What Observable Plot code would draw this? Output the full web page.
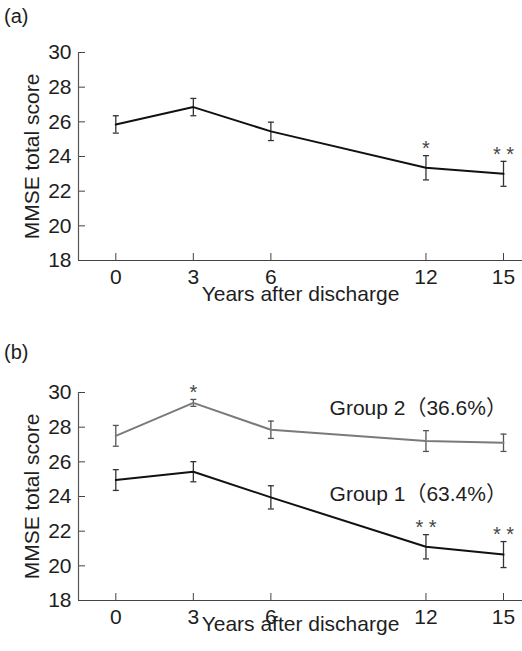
<!DOCTYPE html>
<html><head><meta charset="utf-8">
<script src="https://cdn.jsdelivr.net/npm/d3@7"></script>
<script src="https://cdn.jsdelivr.net/npm/@observablehq/plot@0.6"></script>
<style>
body{margin:0;background:#fff;}
#wrap{position:relative;width:522px;height:651px;font-family:"Liberation Sans",Arial,"Noto Sans CJK JP",sans-serif;color:#1e1e1e;}
#wrap svg{display:block;}
.tag{position:absolute;font-size:20px;line-height:20px;}
</style></head><body>
<div id="wrap">
<div id="a"></div><div id="b"></div>
<div class="tag" style="left:4px;top:6px">(a)</div>
<div class="tag" style="left:4px;top:342px">(b)</div>
</div>
<script>
// ---- data ----
const years = [0, 3, 6, 12, 15];
const totalMean = [25.85, 26.85, 25.45, 23.35, 23.0];
const totalErr = [0.5, 0.5, 0.53, 0.7, 0.72];
const totalSig = ["", "", "", "*", "* *"];
const group1Mean = [24.95, 25.43, 23.95, 21.1, 20.65];
const group1Err = [0.6, 0.58, 0.67, 0.7, 0.75];
const group1Sig = ["", "", "", "* *", "* *"];
const group2Mean = [27.5, 29.4, 27.85, 27.2, 27.1];
const group2Err = [0.6, 0.2, 0.5, 0.6, 0.5];
const group2Sig = ["", "*", "", "", ""];
const groupNames = ["Group 1（63.4%）", "Group 2（36.6%）"];
const xTicks = [0, 3, 6, 12, 15];
const yTicks = [18, 20, 22, 24, 26, 28, 30];
const xLabel = "Years after discharge";
const yLabel = "MMSE total score";

// ---- layout ----
const FONT = '"Liberation Sans", Arial, "Noto Sans CJK JP", sans-serif';
const FS = 21;
const xDomain = [-1.443, 15.735];
const yDomain = [18, 30];
const capSymbol = {draw(ctx) { ctx.moveTo(-3, 0); ctx.lineTo(3, 0); }};

function series(mean, err, sig, lineColor, barColor) {
  const rows = years.map((x, i) => ({x, y: mean[i], lo: mean[i] - err[i], hi: mean[i] + err[i], sig: sig[i]}));
  return [
    Plot.ruleX(rows, {x: "x", y1: "lo", y2: "hi", stroke: barColor, strokeWidth: 1.3}),
    Plot.dot(rows, {x: "x", y: "lo", symbol: capSymbol, stroke: barColor, strokeWidth: 1.3, fill: "none"}),
    Plot.dot(rows, {x: "x", y: "hi", symbol: capSymbol, stroke: barColor, strokeWidth: 1.3, fill: "none"}),
    Plot.line(rows, {x: "x", y: "y", stroke: lineColor, strokeWidth: 2}),
    Plot.text(rows.filter(d => d.sig), {x: "x", y: "hi", text: "sig", dy: -7, fill: "#444", fontSize: 20})
  ];
}

function panel(marks, height, marginBottom, xLabelDy) {
  return Plot.plot({
    width: 522, height, marginTop: 52, marginLeft: 78, marginRight: 0, marginBottom,
    style: {fontSize: FS + "px", fontFamily: FONT, color: "#1e1e1e", background: "white", overflow: "visible"},
    x: {domain: xDomain},
    y: {domain: yDomain},
    marks: [
      Plot.axisX({ticks: xTicks, tickSize: -7, tickPadding: 16, label: null, stroke: "#444", fontSize: FS}),
      Plot.axisY({ticks: yTicks, tickSize: -7, tickPadding: 14, label: null, stroke: "#444", fontSize: FS}),
      Plot.ruleY([yDomain[0]], {stroke: "#444", strokeWidth: 1.2}),
      Plot.ruleX([xDomain[0]], {stroke: "#555", strokeWidth: 1.2}),
      ...marks,
      Plot.text([xLabel], {frameAnchor: "bottom", textAnchor: "middle", dy: xLabelDy, text: d => d, fontSize: FS}),
      Plot.text([yLabel], {frameAnchor: "left", textAnchor: "middle", rotate: -90, dx: -46, text: d => d, fontSize: FS})
    ]
  });
}

const chartA = panel(series(totalMean, totalErr, totalSig, "#111", "#333"), 340, 80, 40);
document.getElementById("a").append(chartA);

const labelAnchors = [{name: groupNames[0], x: 8.27, y: 24.14}, {name: groupNames[1], x: 8.27, y: 29.1}];
const chartB = panel([
  ...series(group2Mean, group2Err, group2Sig, "#7a7a7a", "#555"),
  ...series(group1Mean, group1Err, group1Sig, "#111", "#333"),
  Plot.text(labelAnchors, {x: "x", y: "y", text: "name", textAnchor: "start", fontSize: FS, fill: "#1e1e1e"})
], 311, 51, 30);
document.getElementById("b").append(chartB);
</script>
</body></html>
